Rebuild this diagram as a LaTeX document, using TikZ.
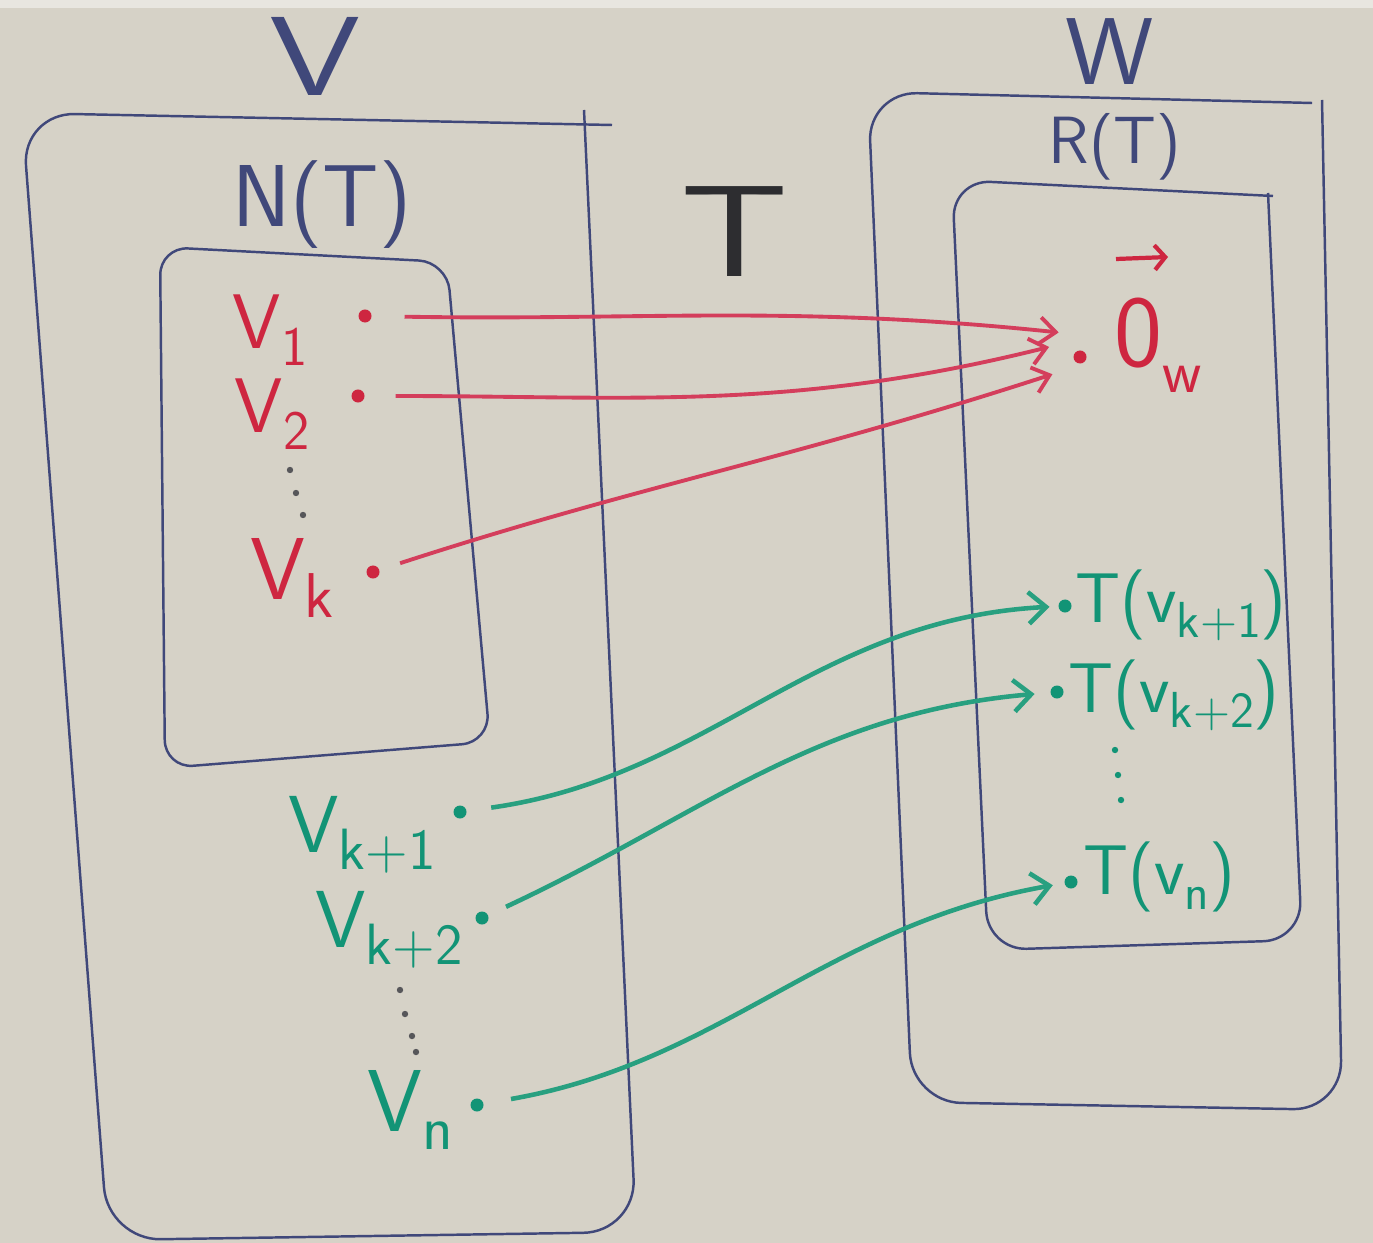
\documentclass[tikz,border=0pt]{standalone}
\renewcommand{\familydefault}{\sfdefault}
\usetikzlibrary{arrows.meta}

\definecolor{board}{RGB}{214,210,199}
\definecolor{boardedge}{RGB}{232,230,224}
\definecolor{blueink}{RGB}{64,72,122}
\definecolor{blackink}{RGB}{45,45,48}
\definecolor{redink}{RGB}{206,38,64}
\definecolor{redline}{RGB}{212,62,92}
\definecolor{greenink}{RGB}{18,148,118}
\definecolor{greenline}{RGB}{40,160,128}

% lowered, smaller index written after a letter
\newcommand{\idx}[1]{\raisebox{-0.5ex}{\scalebox{0.72}{#1}}}

\tikzset{
  box/.style={draw=blueink, line width=0.7pt},
  title/.style={text=blueink, inner sep=0pt},
  redlab/.style={text=redink, inner sep=0pt, font=\fontsize{22}{22}\selectfont},
  greenlab/.style={text=greenink, inner sep=0pt, font=\fontsize{23}{23}\selectfont},
  imglab/.style={text=greenink, inner sep=0pt, font=\fontsize{20}{20}\selectfont},
  pt/.style={circle, fill, inner sep=0pt, minimum size=0.13cm, outer sep=0pt},
  redarrow/.style={draw=redline, line width=1.1pt,
    -{Straight Barb[length=4.5pt,width=7.5pt]}},
  greenarrow/.style={draw=greenline, line width=1.3pt,
    -{Straight Barb[length=5pt,width=9pt]}},
}

\begin{document}
\begin{tikzpicture}[x=0.01cm, y=0.01cm]
  % whiteboard
  \fill[board] (0,0) rectangle (1373,-1243);
  \fill[boardedge] (0,0) rectangle (1373,-8);
  \useasboundingbox (0,0) rectangle (1373,-1243);

  % the space V and its kernel N(T)
  \draw[box, rounded corners=15pt] (612,-125) -- (22,-113) -- (108,-1240)
        -- (636,-1232) -- (584,-110);
  \draw[box, rounded corners=8pt] (447,-262) -- (160,-247) -- (165,-768)
        -- (490,-742) -- cycle;

  % the space W and the range R(T)
  \draw[box, rounded corners=14pt] (1312,-103) -- (868,-92) -- (912,-1102)
        -- (1342,-1110) -- (1322,-100);
  \draw[box, rounded corners=11pt] (1273,-196) -- (952,-180) -- (988,-950)
        -- (1302,-940) -- (1268,-193);

  % titles
  \node[title, font=\fontsize{32}{32}\selectfont, xscale=1.3] (Vt) at (315,-56) {V};
  \node[title, font=\fontsize{25}{25}\selectfont] (Nt) at (322,-205) {N(T)};
  \node[title, font=\fontsize{27}{27}\selectfont, xscale=1.05] (Wt) at (1110,-52) {W};
  \node[title, font=\fontsize{19}{19}\selectfont] (Rt) at (1115,-147) {R(T)};
  \node[text=blackink, inner sep=0pt, font=\fontsize{37}{37}\selectfont, xscale=1.3]
        (Tt) at (735,-232) {T};

  % vectors spanning the kernel
  \node[redlab] (l1) at (270,-330) {V\idx{1}};
  \node[redlab] (l2) at (272,-414) {V\idx{2}};
  \node[redlab, font=\fontsize{25}{25}\selectfont] (lk) at (292,-578) {V\idx{k}};
  \node[pt, redink] (d1) at (365,-316) {};
  \node[pt, redink] (d2) at (358,-396) {};
  \node[pt, redink] (dk) at (373,-572) {};
  \foreach \x/\y in {290/-470, 296/-493, 303/-515}
    \fill[blackink!80] (\x,\y) circle (3.2);

  % the zero vector of W
  \node[pt, redink, outer sep=0.26cm] (z) at (1080,-357) {};
  \node[text=redink, inner sep=0pt, font=\fontsize{29}{29}\selectfont, anchor=west]
        (zl) at (1114,-345) {0\raisebox{-0.6ex}{\scalebox{0.6}{w}}};
  \draw[draw=redink, line width=1.2pt, -{Straight Barb[length=3pt,width=7pt]}]
        (1116,-259) -- (1168,-257);

  % the remaining basis vectors
  \node[greenlab] (g1) at (362,-835) {V\idx{k+1}};
  \node[greenlab] (g2) at (389,-930) {V\idx{k+2}};
  \node[greenlab, font=\fontsize{25}{25}\selectfont] (gn) at (410,-1110) {V\idx{n}};
  \node[pt, greenink] (e1) at (460,-812) {};
  \node[pt, greenink] (e2) at (482,-918) {};
  \node[pt, greenink] (en) at (477,-1105) {};
  \foreach \x/\y in {400/-990, 405/-1014, 412/-1036, 416/-1052}
    \fill[blackink!80] (\x,\y) circle (3.2);

  % their images
  \node[pt, greenink] (f1) at (1065,-606) {};
  \node[pt, greenink] (f2) at (1057,-692) {};
  \node[pt, greenink] (fn) at (1071,-882) {};
  \node[imglab, anchor=west] (t1) at (1075,-605) {T(v\idx{k+1})};
  \node[imglab, anchor=west] (t2) at (1068,-695) {T(v\idx{k+2})};
  \node[imglab, anchor=west] (tn) at (1083,-877) {T(v\idx{n})};
  \foreach \x/\y in {1115/-750, 1118/-775, 1121/-800}
    \fill[greenink] (\x,\y) circle (3.2);

  % kernel vectors all go to the zero vector
  \draw[redarrow, shorten <=0.33cm] (d1) to[out=-1, in=174] (z.131);
  \draw[redarrow, shorten <=0.31cm] (d2) to[out=0, in=194] (z.162);
  \draw[redarrow, shorten <=0.22cm] (dk) to[out=18, in=198] (z.212);

  % the other basis vectors go to the images
  \draw[greenarrow, shorten <=0.25cm, shorten >=0.09cm] (e1) to[out=8, in=183] (f1);
  \draw[greenarrow, shorten <=0.2cm, shorten >=0.16cm] (e2) to[out=25, in=185] (f2);
  \draw[greenarrow, shorten <=0.28cm, shorten >=0.12cm] (en) to[out=10, in=190] (fn);
\end{tikzpicture}
\end{document}
